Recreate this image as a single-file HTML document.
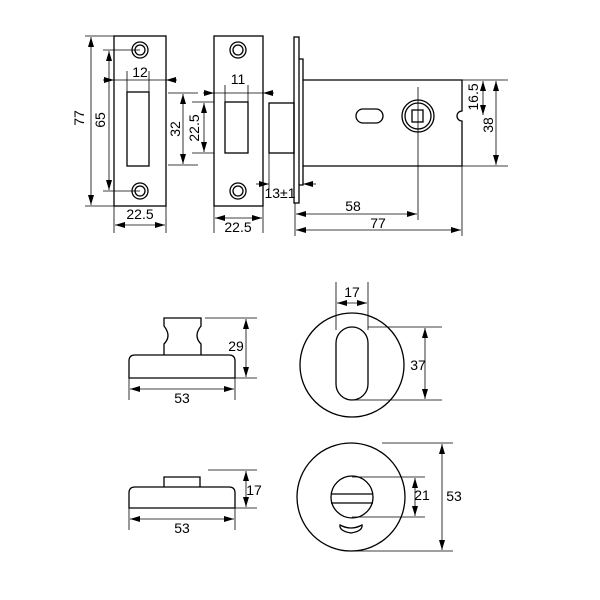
<!DOCTYPE html>
<html><head><meta charset="utf-8"><style>
html,body{margin:0;padding:0;background:#fff;}
svg{display:block;}
text{font-family:"Liberation Sans",Arial,sans-serif;font-size:14px;fill:#000;}
</style></head><body>
<svg width="600" height="600" viewBox="0 0 600 600" xmlns="http://www.w3.org/2000/svg">
<defs>
<marker id="a" viewBox="0 0 10 6" refX="10" refY="3" markerWidth="10" markerHeight="6" orient="auto-start-reverse" markerUnits="userSpaceOnUse"><path d="M0,0 L10,3 L0,6 z" fill="#000"/></marker>
</defs>
<g fill="none" stroke="#000" stroke-width="1.3">
<rect x="114" y="36" width="52" height="170"/>
<circle cx="140" cy="50" r="8"/><circle cx="140" cy="50" r="5"/>
<circle cx="140" cy="191" r="8"/><circle cx="140" cy="191" r="5"/>
<rect x="127" y="92" width="22" height="74"/>
<rect x="214" y="36" width="49" height="170"/>
<circle cx="238" cy="50" r="8"/><circle cx="238" cy="50" r="5"/>
<circle cx="238" cy="191" r="8"/><circle cx="238" cy="191" r="5"/>
<rect x="225" y="102" width="23" height="51"/>
<rect x="269" y="103" width="25" height="50"/>
<rect x="294" y="37" width="5" height="166"/>
<path d="M299,59 H303 V185 H299"/>
<path d="M303,80 H462 V111 A5,5 0 0 0 462,121 V166 H303"/>
<rect x="356" y="109" width="27" height="14" rx="7"/>
<circle cx="418" cy="116" r="16"/><circle cx="418" cy="116" r="13"/>
<rect x="412" y="110" width="11" height="12"/>
<path d="M129,378 V361 Q129,355 135,355 H229 Q235,355 235,361 V378 Z"/>
<path d="M164,355 V344 Q172,336 164,326 V318 H201 V326 Q193,336 201,344 V355"/>
<circle cx="352" cy="365" r="52"/>
<rect x="336" y="327" width="32" height="73" rx="16"/>
<path d="M129,508 V493 Q129,487 135,487 H229 Q235,487 235,493 V508 Z"/>
<path d="M164,487 V477 H200 V487"/>
<circle cx="351" cy="497" r="54"/>
<circle cx="352" cy="497" r="21"/>
<path d="M331,494 H373 M331,503 H373"/>
<path d="M340,525 Q351,531 362,525 Q363,531 351,533 Q339,531 340,525 Z"/>
</g>
<g fill="none" stroke="#000" stroke-width="0.8">
<path d="M85,36 H114 M85,206 H114"/>
<line x1="91" y1="37" x2="91" y2="205" marker-start="url(#a)" marker-end="url(#a)"/>
<path d="M103,50 H140 M103,191 H140"/>
<line x1="109" y1="51" x2="109" y2="190" marker-start="url(#a)" marker-end="url(#a)"/>
<path d="M127,71 V92 M149,71 V92"/>
<line x1="103" y1="80" x2="114" y2="80" marker-end="url(#a)"/>
<line x1="177" y1="80" x2="166" y2="80" marker-end="url(#a)"/>
<line x1="114" y1="80" x2="166" y2="80"/>
<path d="M114,206 V233 M166,206 V233"/>
<line x1="115" y1="225" x2="165" y2="225" marker-start="url(#a)" marker-end="url(#a)"/>
<path d="M225,85 V102 M248,85 V102"/>
<line x1="203" y1="93" x2="214" y2="93" marker-end="url(#a)"/>
<line x1="274" y1="93" x2="263" y2="93" marker-end="url(#a)"/>
<line x1="214" y1="93" x2="263" y2="93"/>
<path d="M168,93 H198 M168,165 H198"/>
<line x1="183" y1="94" x2="183" y2="164" marker-start="url(#a)" marker-end="url(#a)"/>
<path d="M192,102 H214 M192,153 H214"/>
<line x1="204" y1="103" x2="204" y2="152" marker-start="url(#a)" marker-end="url(#a)"/>
<path d="M214,206 V233 M263,206 V233"/>
<line x1="215" y1="218" x2="262" y2="218" marker-start="url(#a)" marker-end="url(#a)"/>
<path d="M269,153 V190"/>
<line x1="256" y1="184" x2="269" y2="184" marker-end="url(#a)"/>
<line x1="316" y1="184" x2="303" y2="184" marker-end="url(#a)"/>
<path d="M418,87 V220 M295,203 V236 M462,166 V236"/>
<line x1="296" y1="214" x2="417" y2="214" marker-start="url(#a)" marker-end="url(#a)"/>
<line x1="296" y1="230" x2="461" y2="230" marker-start="url(#a)" marker-end="url(#a)"/>
<path d="M462,80 H508 M462,166 H508"/>
<line x1="483" y1="81" x2="483" y2="115" marker-start="url(#a)" marker-end="url(#a)"/>
<line x1="496" y1="81" x2="496" y2="165" marker-start="url(#a)" marker-end="url(#a)"/>
<path d="M205,318 H257 M235,378 H257"/>
<line x1="246" y1="319" x2="246" y2="377" marker-start="url(#a)" marker-end="url(#a)"/>
<path d="M129,378 V400 M235,378 V400"/>
<line x1="130" y1="389" x2="234" y2="389" marker-start="url(#a)" marker-end="url(#a)"/>
<path d="M336,282 V330 M368,282 V330"/>
<line x1="337" y1="303" x2="367" y2="303" marker-start="url(#a)" marker-end="url(#a)"/>
<path d="M368,327 H442 M352,400 H442"/>
<line x1="425" y1="328" x2="425" y2="399" marker-start="url(#a)" marker-end="url(#a)"/>
<path d="M208,470 H257 M235,508 H257"/>
<line x1="246" y1="471" x2="246" y2="507" marker-start="url(#a)" marker-end="url(#a)"/>
<path d="M129,508 V530 M235,508 V530"/>
<line x1="130" y1="519" x2="234" y2="519" marker-start="url(#a)" marker-end="url(#a)"/>
<path d="M352,477 H425 M352,517 H425"/>
<line x1="415" y1="478" x2="415" y2="516" marker-start="url(#a)" marker-end="url(#a)"/>
<path d="M382,443 H453 M352,551 H453"/>
<line x1="442" y1="444" x2="442" y2="550" marker-start="url(#a)" marker-end="url(#a)"/>
</g>
<g text-anchor="middle">
<text x="140" y="77">12</text>
<text x="140" y="219">22.5</text>
<text x="238" y="84">11</text>
<text x="238" y="232">22.5</text>
<text x="280" y="198">13±1</text>
<text x="353" y="211">58</text>
<text x="378" y="228">77</text>
<text transform="translate(84,118) rotate(-90)">77</text>
<text transform="translate(105,120) rotate(-90)">65</text>
<text transform="translate(180,129) rotate(-90)">32</text>
<text transform="translate(199,128) rotate(-90)">22.5</text>
<text transform="translate(478,97) rotate(-90)">16.5</text>
<text transform="translate(493,125) rotate(-90)">38</text>
<text x="236" y="351">29</text>
<text x="182" y="403">53</text>
<text x="352" y="297">17</text>
<text x="418" y="370">37</text>
<text x="254" y="495">17</text>
<text x="182" y="533">53</text>
<text x="422" y="500">21</text>
<text x="454" y="501">53</text>
</g>
</svg>
</body></html>
